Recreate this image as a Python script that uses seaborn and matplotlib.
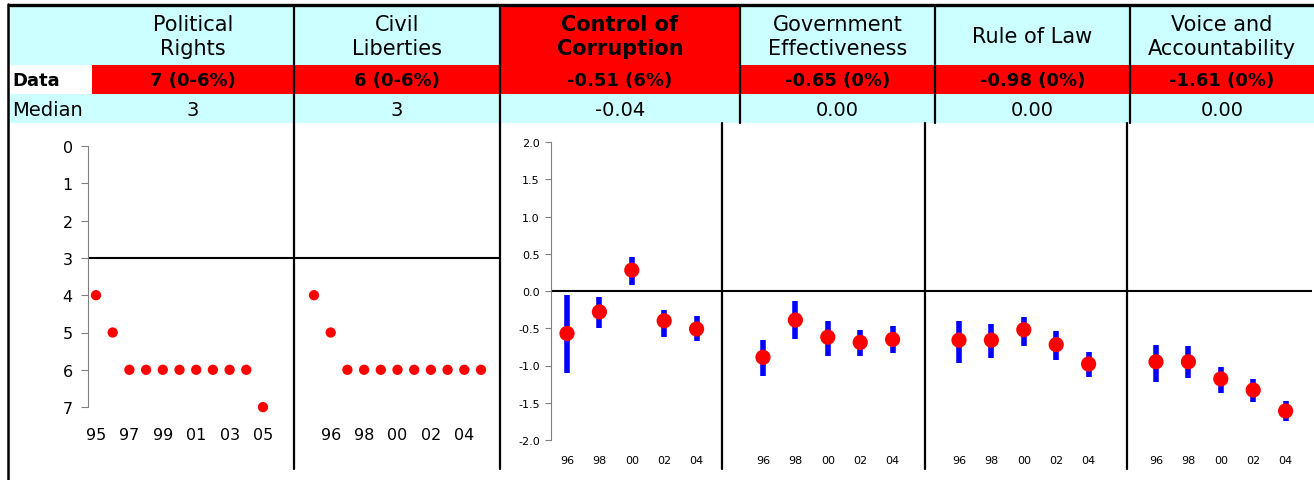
import numpy as np
import pandas as pd
import matplotlib
matplotlib.use("Agg")
import matplotlib.pyplot as plt
from matplotlib.patches import Rectangle
import seaborn as sns

sns.set_style("white")
plt.rcParams['font.family'] = ['DejaVu Sans']
plt.rcParams['text.color'] = 'black'
plt.rcParams['xtick.color'] = 'black'
plt.rcParams['ytick.color'] = 'black'

# ---- data ----
indicators = ['Political\nRights', 'Civil\nLiberties', 'Control of\nCorruption',
              'Government\nEffectiveness', 'Rule of Law', 'Voice and\nAccountability']
data_labels = ['7 (0-6%)', '6 (0-6%)', '-0.51 (6%)', '-0.65 (0%)', '-0.98 (0%)', '-1.61 (0%)']
median_labels = ['3', '3', '-0.04', '0.00', '0.00', '0.00']
highlight_header = [False, False, True, False, False, False]

fh_years = ['95', '96', '97', '98', '99', '00', '01', '02', '03', '04', '05']
pr_scores = [4, 5, 6, 6, 6, 6, 6, 6, 6, 6, 7]
cl_scores = [4, 5, 6, 6, 6, 6, 6, 6, 6, 6, 6]
fh_median = 3

wgi_years = ['96', '98', '00', '02', '04']
coc_est = [-0.57, -0.28, 0.28, -0.40, -0.51]
coc_lo = [-1.10, -0.50, 0.08, -0.62, -0.67]
coc_hi = [-0.06, -0.08, 0.46, -0.26, -0.34]
ge_est = [-0.89, -0.39, -0.62, -0.69, -0.65]
ge_lo = [-1.14, -0.64, -0.87, -0.87, -0.83]
ge_hi = [-0.66, -0.13, -0.40, -0.52, -0.47]
rl_est = [-0.66, -0.66, -0.52, -0.72, -0.98]
rl_lo = [-0.97, -0.90, -0.74, -0.93, -1.16]
rl_hi = [-0.40, -0.44, -0.35, -0.54, -0.82]
va_est = [-0.95, -0.95, -1.18, -1.33, -1.61]
va_lo = [-1.22, -1.17, -1.37, -1.49, -1.75]
va_hi = [-0.72, -0.74, -1.02, -1.18, -1.48]

RED = '#FF0000'
CYAN = '#CCFFFF'
BLUE = '#0000FF'

W, H = 1314, 481
fig = plt.figure(figsize=(W / 100, H / 100), dpi=100)


def px_axes(x0, y0, x1, y1):
    return fig.add_axes([x0 / W, 1 - y1 / H, (x1 - x0) / W, (y1 - y0) / H])


# ---- header table on an overlay axes in pixel coords ----
frame = px_axes(0, 0, W, H)
frame.set_xlim(0, W)
frame.set_ylim(H, 0)
frame.axis('off')

head_edges = [92, 294, 500, 740, 935, 1130, 1314]
row1 = (8, 66)
row2 = (66, 95)
row3 = (95, 124)

frame.add_patch(Rectangle((8, row1[0]), W - 8, row1[1] - row1[0], color=CYAN, lw=0))
frame.add_patch(Rectangle((92, row2[0]), W - 92, row2[1] - row2[0], color=RED, lw=0))
frame.add_patch(Rectangle((8, row3[0]), W - 8, row3[1] - row3[0], color=CYAN, lw=0))

for i, name in enumerate(indicators):
    x0, x1 = head_edges[i], head_edges[i + 1]
    cx = (x0 + x1) / 2
    if highlight_header[i]:
        frame.add_patch(Rectangle((x0, row1[0]), x1 - x0, row1[1] - row1[0], color=RED, lw=0))
    frame.text(cx, 37, name, ha='center', va='center', fontsize=15,
               fontweight='bold' if highlight_header[i] else 'normal', linespacing=1.25)
    frame.text(cx, 81, data_labels[i], ha='center', va='center', fontsize=13, fontweight='bold')
    frame.text(cx, 110, median_labels[i], ha='center', va='center', fontsize=14)

frame.text(12, 81, 'Data', ha='left', va='center', fontsize=13, fontweight='bold')
frame.text(12, 110, 'Median', ha='left', va='center', fontsize=14)

# borders and dividers
frame.plot([8, W], [6, 6], color='black', lw=2.4, solid_capstyle='butt')
frame.plot([8, 8], [5, H], color='black', lw=1.8)
for x in [294, 500, 740, 935, 1130]:
    frame.plot([x, x], [8, 124], color='black', lw=1.6)
for x in [294, 500, 722, 925, 1127]:
    frame.plot([x, x], [124, 470], color='black', lw=1.6)


# ---- Freedom House panels ----
def fh_panel(x0, x1, first_x, scores, tick_idx, show_y):
    ax = px_axes(x0, 130, x1, 420)
    ax.set_facecolor('none')
    step = 16.7
    idx = np.arange(len(fh_years))
    df = pd.DataFrame({'i': idx, 'score': scores})
    sns.scatterplot(data=df, x='i', y='score', color=RED, s=55, edgecolor='none',
                    legend=False, ax=ax, zorder=3)
    ax.axhline(fh_median, color='black', lw=1.5)
    ax.set_xlim((x0 - first_x) / step, (x1 - first_x) / step)
    ax.set_ylim((420 - 147) / 37.3, (130 - 147) / 37.3)
    ax.set_xticks(tick_idx)
    ax.set_xticklabels([fh_years[k] for k in tick_idx])
    ax.tick_params(axis='x', length=0, pad=6, labelsize=11.5, labelcolor='black')
    for s in ['top', 'right', 'bottom']:
        ax.spines[s].set_visible(False)
    if show_y:
        ax.spines['left'].set_color('#808080')
        ax.spines['left'].set_bounds(0, 7)
        ax.set_yticks(range(0, 8))
        ax.tick_params(axis='y', left=True, length=5, color='#808080', pad=6,
                       labelsize=11.5, labelcolor='black')
    else:
        ax.spines['left'].set_visible(False)
        ax.set_yticks([])
    ax.set_xlabel('')
    ax.set_ylabel('')
    return ax


fh_panel(88, 294, 96, pr_scores, [0, 2, 4, 6, 8, 10], True)
fh_panel(294, 500, 314, cl_scores, [1, 3, 5, 7, 9], False)


# ---- governance indicator panels ----
def wgi_panel(x0, x1, first_x, est, lo, hi, show_y):
    ax = px_axes(x0, 130, x1, 448)
    ax.set_facecolor('none')
    step = 32.4
    idx = np.arange(len(wgi_years))
    df = pd.DataFrame({'i': idx, 'est': est, 'lo': lo, 'hi': hi})
    ax.axhline(0, color='black', lw=1.5, zorder=1)
    ax.vlines(df['i'], df['lo'], df['hi'], color=BLUE, lw=4, zorder=2)
    sns.scatterplot(data=df, x='i', y='est', color=RED, s=120, edgecolor='none',
                    legend=False, ax=ax, zorder=3)
    ax.set_xlim((x0 - first_x) / step, (x1 - first_x) / step)
    ax.set_ylim((292 - 448) / 74.5, (292 - 130) / 74.5)
    ax.set_xticks(idx)
    ax.set_xticklabels(wgi_years)
    ax.tick_params(axis='x', length=0, pad=6, labelsize=8, labelcolor='black')
    for s in ['top', 'right', 'bottom']:
        ax.spines[s].set_visible(False)
    if show_y:
        ax.spines['left'].set_color('#808080')
        ax.spines['left'].set_bounds(-2, 2)
        ticks = np.arange(-2, 2.01, 0.5)
        ax.set_yticks(ticks)
        ax.set_yticklabels([f'{t:.1f}' for t in ticks])
        ax.tick_params(axis='y', left=True, length=4, color='#808080', pad=4,
                       labelsize=8, labelcolor='black')
    else:
        ax.spines['left'].set_visible(False)
        ax.set_yticks([])
    ax.set_xlabel('')
    ax.set_ylabel('')
    return ax


wgi_panel(551, 722, 567, coc_est, coc_lo, coc_hi, True)
wgi_panel(722, 925, 763, ge_est, ge_lo, ge_hi, False)
wgi_panel(925, 1127, 959, rl_est, rl_lo, rl_hi, False)
wgi_panel(1127, 1312, 1156, va_est, va_lo, va_hi, False)

fig.savefig('out.png', dpi=100)
